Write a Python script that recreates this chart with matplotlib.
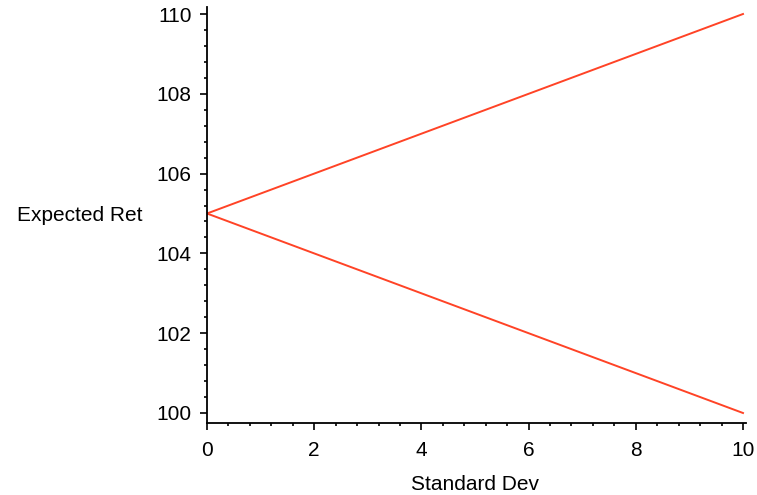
"""Expected return vs standard deviation, two straight frontiers."""

import matplotlib
matplotlib.use("Agg")
import matplotlib.pyplot as plt
from matplotlib.ticker import MultipleLocator

std_dev = [0, 1, 2, 3, 4, 5, 6, 7, 8, 9, 10]
upper_ret = [105.0, 105.5, 106.0, 106.5, 107.0, 107.5, 108.0, 108.5, 109.0, 109.5, 110.0]
lower_ret = [105.0, 104.5, 104.0, 103.5, 103.0, 102.5, 102.0, 101.5, 101.0, 100.5, 100.0]

W, H = 757, 495
plt.rcParams["font.family"] = ["Liberation Sans", "DejaVu Sans"]

fig = plt.figure(figsize=(W / 100, H / 100), dpi=100)
# pixel frame: x 0 -> 207, 10 -> 743 ; y 100 -> 413, 110 -> 14
xpx = 53.6
ypx = 39.9
x0, x1 = 0.0, 10.05
y0, y1 = 99.75, 110.18
left = 207 / W
width = (x1 - x0) * xpx / W
bottom = (H - (413 + (100 - y0) * ypx)) / H
height = (y1 - y0) * ypx / H
ax = fig.add_axes([left, bottom, width, height])

color = "#ff4326"
ax.plot(std_dev, upper_ret, color=color, lw=1.4)
ax.plot(std_dev, lower_ret, color=color, lw=1.4)

ax.set_xlim(x0, x1)
ax.set_ylim(y0, y1)
ax.xaxis.set_major_locator(MultipleLocator(2))
ax.xaxis.set_minor_locator(MultipleLocator(0.4))
ax.yaxis.set_major_locator(MultipleLocator(2))
ax.yaxis.set_minor_locator(MultipleLocator(0.4))

for side in ("top", "right"):
    ax.spines[side].set_visible(False)
for side in ("left", "bottom"):
    ax.spines[side].set_linewidth(1.3)
ax.tick_params(which="major", length=5, width=1.2, labelsize=15)
ax.tick_params(which="minor", length=2.5, width=1.2)
ax.tick_params(axis="x", which="major", pad=8)
ax.tick_params(axis="y", which="major", pad=6)

fig.text(80 / W, 1 - 216 / H, "Expected Ret", fontsize=15, ha="center", va="center")
fig.text(475 / W, 1 - 484 / H, "Standard Dev", fontsize=15, ha="center", va="center")

fig.savefig("out.png", dpi=100)
